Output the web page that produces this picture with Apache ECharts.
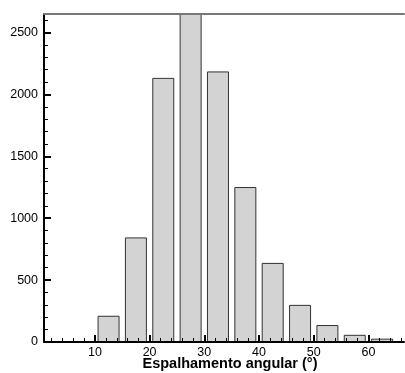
<!DOCTYPE html>
<html>
<head>
<meta charset="utf-8">
<script src="https://cdn.jsdelivr.net/npm/echarts@6/dist/echarts.min.js"></script>
<style>html,body{margin:0;padding:0;background:#fff}#c{width:405px;height:373px}</style>
</head>
<body>
<div id="c"></div>
<script>
const binCenters = [12.5, 17.5, 22.5, 27.5, 32.5, 37.5, 42.5, 47.5, 52.5, 57.5, 62.5];
const counts = [212, 845, 2134, 2650, 2186, 1252, 639, 300, 137, 58, 27];
const xMajorTicks = [10, 20, 30, 40, 50, 60];
const xMinorTicks = [2, 4, 6, 8, 12, 14, 16, 18, 22, 24, 26, 28, 32, 34, 36, 38, 42, 44, 46, 48, 52, 54, 56, 58, 62, 64, 66];
const yTicks = [0, 500, 1000, 1500, 2000, 2500];
const xTitle = 'Espalhamento angular (°)';

const chart = echarts.init(document.getElementById('c'), null, {renderer: 'canvas'});
const font = 'Liberation Sans, Arial, sans-serif';
const X_MIN = 0.7, X_MAX = 66.5;
chart.setOption({
  animation: false,
  grid: {left: 44, right: 1, top: 14, bottom: 31, containLabel: false, outerBoundsMode: 'none'},
  xAxis: [
    {
      type: 'value', min: X_MIN, max: X_MAX, position: 'bottom', z: 10,
      axisLine: {show: true, onZero: false, lineStyle: {color: '#000', width: 2}},
      axisTick: {show: true, inside: true, length: 7, customValues: xMajorTicks, lineStyle: {color: '#000', width: 2}},
      axisLabel: {show: true, customValues: xMajorTicks, margin: 4, color: '#000', fontSize: 12.5, fontFamily: font},
      splitLine: {show: false},
      name: xTitle, nameLocation: 'middle', nameGap: 14, nameMoveOverlap: false,
      nameTextStyle: {color: '#000', fontSize: 14.5, fontWeight: 'bold', fontFamily: font, padding: [0, 0, 0, 12]}
    },
    {
      type: 'value', min: X_MIN, max: X_MAX, position: 'bottom', z: 10,
      axisLine: {show: false},
      axisTick: {show: true, inside: true, length: 4, customValues: xMinorTicks, lineStyle: {color: '#000', width: 1}},
      axisLabel: {show: false},
      splitLine: {show: false}
    },
    {
      type: 'value', min: X_MIN, max: X_MAX, position: 'top', z: 10,
      axisLine: {show: true, onZero: false, lineStyle: {color: '#777', width: 2}},
      axisTick: {show: false}, axisLabel: {show: false}, splitLine: {show: false}
    }
  ],
  yAxis: {
    type: 'value', min: 0, max: 2650, interval: 500, z: 10,
    axisLine: {show: true, onZero: false, lineStyle: {color: '#000', width: 2}},
    axisTick: {show: true, inside: true, length: 7, customValues: yTicks, lineStyle: {color: '#000', width: 2}},
    minorTick: {show: true, splitNumber: 5, length: 4, lineStyle: {color: '#000', width: 1}},
    axisLabel: {color: '#000', fontSize: 12.5, fontFamily: font, margin: 6, customValues: yTicks, formatter: v => String(v)},
    splitLine: {show: false}
  },
  series: [{
    type: 'bar',
    xAxisIndex: 0,
    data: binCenters.map((c, i) => [c, counts[i]]),
    barWidth: 22,
    itemStyle: {color: '#d3d3d3', borderColor: '#333', borderWidth: 1}
  }]
});
</script>
</body>
</html>
